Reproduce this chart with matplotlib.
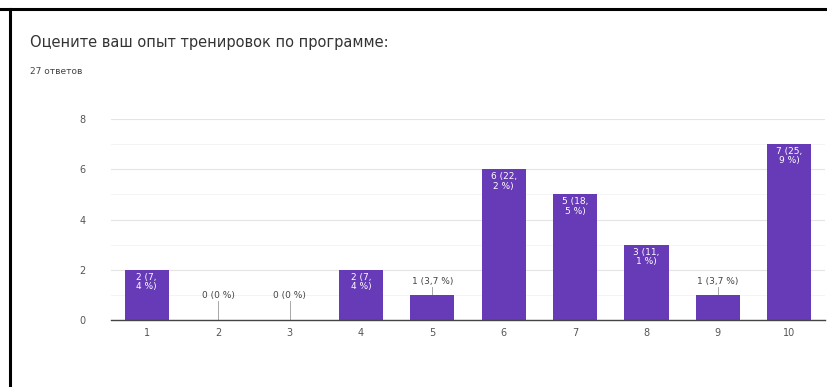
import matplotlib.pyplot as plt
from matplotlib.lines import Line2D

# --------------------------------------------------
# data
# --------------------------------------------------
title = "Оцените ваш опыт тренировок по программе:"
subtitle = "27 ответов"
categories = ["1", "2", "3", "4", "5", "6", "7", "8", "9", "10"]
counts = [2, 0, 0, 2, 1, 6, 5, 3, 1, 7]
bar_labels = ["2 (7,\n4 %)", "0 (0 %)", "0 (0 %)", "2 (7,\n4 %)", "1 (3,7 %)",
              "6 (22,\n2 %)", "5 (18,\n5 %)", "3 (11,\n1 %)", "1 (3,7 %)", "7 (25,\n9 %)"]
y_ticks = [0, 2, 4, 6, 8]

purple = "#673ab7"

# --------------------------------------------------
# figure
# --------------------------------------------------
fig = plt.figure(figsize=(8.27, 3.87), dpi=100)
ax = fig.add_axes([111 / 827, 67 / 387, 714 / 827, 201 / 387])

x = list(range(1, len(categories) + 1))
ax.bar(x, counts, width=0.62, color=purple, zorder=3)

ax.set_xlim(0.5, 10.5)
ax.set_ylim(0, 8)
ax.set_yticks(y_ticks)
ax.set_yticks([1, 3, 5, 7], minor=True)
ax.set_xticks(x)
ax.set_xticklabels(categories)
ax.tick_params(axis="both", which="both", length=0, labelsize=7, colors="#555555")
ax.tick_params(axis="y", pad=18)
ax.tick_params(axis="x", pad=6)
ax.grid(axis="y", which="major", color="#e4e4e4", lw=0.8, zorder=0)
ax.grid(axis="y", which="minor", color="#f3f3f3", lw=0.6, zorder=0)
for s in ["left", "right", "top"]:
    ax.spines[s].set_visible(False)
ax.spines["bottom"].set_color("#444444")
ax.spines["bottom"].set_linewidth(1.0)
ax.spines["bottom"].set_zorder(4)

# value labels
for xi, c, lab in zip(x, counts, bar_labels):
    if c >= 2:
        ax.text(xi, c - 0.12, lab, ha="center", va="top", color="white",
                fontsize=6.5, linespacing=1.05, zorder=5)
    else:
        ly = max(c + 0.3, 0.75)
        ax.text(xi, ly + 0.05, lab, ha="center", va="bottom", color="#444444",
                fontsize=6.5, zorder=5)
        ax.plot([xi, xi], [c, ly], color="#999999", lw=0.6, zorder=2)

# titles
fig.text(30 / 827, 1 - 43 / 387, title, fontsize=10.5, color="#333333", va="center")
fig.text(30 / 827, 1 - 72 / 387, subtitle, fontsize=6.5, color="#444444", va="center")

# screenshot frame
fig.add_artist(Line2D([0, 1], [1 - 9 / 387] * 2, transform=fig.transFigure,
                      color="black", lw=2.2))
fig.add_artist(Line2D([10 / 827] * 2, [0, 1 - 9 / 387], transform=fig.transFigure,
                      color="black", lw=2.2))

fig.savefig("out.png", dpi=100)
